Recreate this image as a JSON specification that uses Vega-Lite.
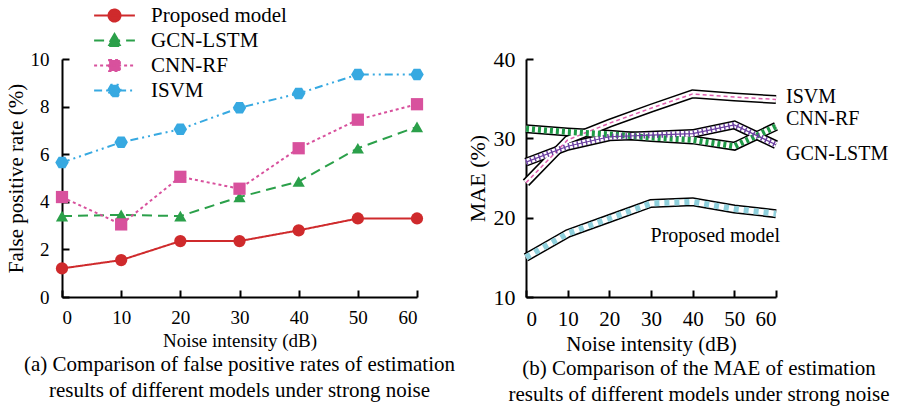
{
  "$schema": "https://vega.github.io/schema/vega-lite/v6.json",
  "background": "white",
  "padding": 5,
  "bounds": "flush",
  "spacing": 109,
  "datasets": {
    "fpr": [
      {"model": "Proposed model", "noise": 0, "fpr": 1.2},
      {"model": "Proposed model", "noise": 10, "fpr": 1.55},
      {"model": "Proposed model", "noise": 20, "fpr": 2.35},
      {"model": "Proposed model", "noise": 30, "fpr": 2.35},
      {"model": "Proposed model", "noise": 40, "fpr": 2.8},
      {"model": "Proposed model", "noise": 50, "fpr": 3.3},
      {"model": "Proposed model", "noise": 60, "fpr": 3.3},
      {"model": "GCN-LSTM", "noise": 0, "fpr": 3.4},
      {"model": "GCN-LSTM", "noise": 10, "fpr": 3.45},
      {"model": "GCN-LSTM", "noise": 20, "fpr": 3.4},
      {"model": "GCN-LSTM", "noise": 30, "fpr": 4.2},
      {"model": "GCN-LSTM", "noise": 40, "fpr": 4.85},
      {"model": "GCN-LSTM", "noise": 50, "fpr": 6.25},
      {"model": "GCN-LSTM", "noise": 60, "fpr": 7.15},
      {"model": "CNN-RF", "noise": 0, "fpr": 4.2},
      {"model": "CNN-RF", "noise": 10, "fpr": 3.05},
      {"model": "CNN-RF", "noise": 20, "fpr": 5.05},
      {"model": "CNN-RF", "noise": 30, "fpr": 4.55},
      {"model": "CNN-RF", "noise": 40, "fpr": 6.25},
      {"model": "CNN-RF", "noise": 50, "fpr": 7.45},
      {"model": "CNN-RF", "noise": 60, "fpr": 8.1},
      {"model": "ISVM", "noise": 0, "fpr": 5.65},
      {"model": "ISVM", "noise": 10, "fpr": 6.5},
      {"model": "ISVM", "noise": 20, "fpr": 7.05},
      {"model": "ISVM", "noise": 30, "fpr": 7.95},
      {"model": "ISVM", "noise": 40, "fpr": 8.55},
      {"model": "ISVM", "noise": 50, "fpr": 9.35},
      {"model": "ISVM", "noise": 60, "fpr": 9.35}
    ],
    "mae": [
      {"model": "ISVM", "noise": 0, "mae": 24.4},
      {"model": "ISVM", "noise": 10, "mae": 29.8},
      {"model": "ISVM", "noise": 20, "mae": 31.9},
      {"model": "ISVM", "noise": 30, "mae": 33.8},
      {"model": "ISVM", "noise": 40, "mae": 35.6},
      {"model": "ISVM", "noise": 50, "mae": 35.2},
      {"model": "ISVM", "noise": 60, "mae": 34.9},
      {"model": "CNN-RF", "noise": 0, "mae": 31.2},
      {"model": "CNN-RF", "noise": 10, "mae": 30.8},
      {"model": "CNN-RF", "noise": 20, "mae": 30.5},
      {"model": "CNN-RF", "noise": 30, "mae": 30.1},
      {"model": "CNN-RF", "noise": 40, "mae": 29.8},
      {"model": "CNN-RF", "noise": 50, "mae": 29.0},
      {"model": "CNN-RF", "noise": 60, "mae": 31.5},
      {"model": "GCN-LSTM", "noise": 0, "mae": 27.0},
      {"model": "GCN-LSTM", "noise": 10, "mae": 29.0},
      {"model": "GCN-LSTM", "noise": 20, "mae": 30.2},
      {"model": "GCN-LSTM", "noise": 30, "mae": 30.4},
      {"model": "GCN-LSTM", "noise": 40, "mae": 30.6},
      {"model": "GCN-LSTM", "noise": 50, "mae": 31.7},
      {"model": "GCN-LSTM", "noise": 60, "mae": 29.2},
      {"model": "Proposed model", "noise": 0, "mae": 15.0},
      {"model": "Proposed model", "noise": 10, "mae": 18.0},
      {"model": "Proposed model", "noise": 20, "mae": 19.9},
      {"model": "Proposed model", "noise": 30, "mae": 21.8},
      {"model": "Proposed model", "noise": 40, "mae": 22.0},
      {"model": "Proposed model", "noise": 50, "mae": 21.1},
      {"model": "Proposed model", "noise": 60, "mae": 20.5}
    ]
  },
  "hconcat": [
    {
      "width": 355,
      "height": 238,
      "data": {"name": "fpr"},
      "title": {
        "text": ["(a) Comparison of false positive rates of estimation", "results of different models under strong noise"],
        "orient": "bottom"
      },
      "encoding": {
        "x": {"field": "noise", "type": "quantitative", "scale": {"domain": [0, 60], "nice": false}, "axis": {"values": [0, 10, 20, 30, 40, 50, 60], "title": "Noise intensity (dB)"}},
        "y": {"field": "fpr", "type": "quantitative", "scale": {"domain": [0, 10], "nice": false}, "axis": {"values": [0, 2, 4, 6, 8, 10], "title": "False positive rate (%)", "titleFontSize": 21, "labelPadding": 20}}
      },
      "layer": [
        {
          "mark": {"type": "line", "strokeWidth": 2},
          "encoding": {
            "color": {
              "field": "model", "type": "nominal",
              "scale": {"domain": ["Proposed model", "GCN-LSTM", "CNN-RF", "ISVM"], "range": ["#cf2a2c", "#2ba04a", "#d8519d", "#37a9e1"]},
              "legend": {
                "orient": "none", "legendX": 42, "legendY": -54, "title": null, "padding": 0,
                "symbolSize": 144, "symbolStrokeWidth": 2,
                "labelFont": "Liberation Serif, serif", "labelFontSize": 21, "labelColor": "black", "labelOffset": 26, "rowPadding": 3,
                "encode": {
                  "symbols": {
                    "update": {
                      "shape": {"signal": "datum.value === 'Proposed model' ? 'M-3.4,0H3.4M-1,0A1,1 0 1,1 1,0A1,1 0 1,1 -1,0Z' : datum.value === 'GCN-LSTM' ? 'M-3.4,0H3.4M0,-1.1L1.15,0.9L-1.15,0.9Z' : datum.value === 'CNN-RF' ? 'M-3.4,0H3.4M-0.9,-0.9H0.9V0.9H-0.9Z' : 'M-3.4,0H3.4M-1.1,0L-0.55,-0.95L0.55,-0.95L1.1,0L0.55,0.95L-0.55,0.95Z'"},
                      "fill": {"scale": "color", "field": "value"},
                      "stroke": {"scale": "color", "field": "value"},
                      "opacity": {"value": 1}
                    }
                  }
                }
              }
            },
            "strokeDash": {
              "field": "model", "type": "nominal",
              "scale": {"domain": ["Proposed model", "GCN-LSTM", "CNN-RF", "ISVM"], "range": [[1, 0], [10, 6], [3, 3], [8, 4, 2, 4, 2, 4]]},
              "legend": {
                "orient": "none", "legendX": 42, "legendY": -54, "title": null, "padding": 0,
                "symbolSize": 144, "symbolStrokeWidth": 2,
                "labelFont": "Liberation Serif, serif", "labelFontSize": 21, "labelColor": "black", "labelOffset": 26, "rowPadding": 3,
                "encode": {
                  "symbols": {
                    "update": {
                      "shape": {"signal": "datum.value === 'Proposed model' ? 'M-3.4,0H3.4M-1,0A1,1 0 1,1 1,0A1,1 0 1,1 -1,0Z' : datum.value === 'GCN-LSTM' ? 'M-3.4,0H3.4M0,-1.1L1.15,0.9L-1.15,0.9Z' : datum.value === 'CNN-RF' ? 'M-3.4,0H3.4M-0.9,-0.9H0.9V0.9H-0.9Z' : 'M-3.4,0H3.4M-1.1,0L-0.55,-0.95L0.55,-0.95L1.1,0L0.55,0.95L-0.55,0.95Z'"},
                      "fill": {"scale": "color", "field": "value"},
                      "stroke": {"scale": "color", "field": "value"},
                      "opacity": {"value": 1}
                    }
                  }
                }
              }
            }
          }
        },
        {"transform": [{"filter": "datum.model === 'Proposed model'"}], "mark": {"type": "point", "filled": true, "size": 150, "opacity": 1, "shape": "circle", "color": "#cf2a2c"}, "encoding": {}},
        {"transform": [{"filter": "datum.model === 'GCN-LSTM'"}], "mark": {"type": "point", "filled": true, "size": 150, "opacity": 1, "shape": "triangle-up", "color": "#2ba04a"}, "encoding": {}},
        {"transform": [{"filter": "datum.model === 'CNN-RF'"}], "mark": {"type": "point", "filled": true, "size": 150, "opacity": 1, "shape": "square", "color": "#d8519d"}, "encoding": {}},
        {"transform": [{"filter": "datum.model === 'ISVM'"}], "mark": {"type": "point", "filled": true, "size": 150, "opacity": 1, "shape": "M-1.1,0L-0.55,-0.95L0.55,-0.95L1.1,0L0.55,0.95L-0.55,0.95Z", "color": "#37a9e1"}, "encoding": {}}
      ]
    },
    {
      "width": 250,
      "height": 238,
      "data": {"name": "mae"},
      "title": {
        "text": ["(b) Comparison of the MAE of estimation", "results of different models under strong noise"],
        "orient": "bottom",
        "dx": 48
      },
      "encoding": {
        "x": {"field": "noise", "type": "quantitative", "scale": {"domain": [0, 60], "nice": false}, "axis": {"values": [0, 10, 20, 30, 40, 50, 60], "title": "Noise intensity (dB)", "labelFontSize": 21, "titleFontSize": 21}},
        "y": {"field": "mae", "type": "quantitative", "scale": {"domain": [10, 40], "nice": false}, "axis": {"values": [10, 20, 30, 40], "title": "MAE (%)", "labelFontSize": 22, "titleFontSize": 22}}
      },
      "layer": [
        {"mark": {"type": "line", "color": "black", "strokeWidth": 9}, "encoding": {"detail": {"field": "model"}}},
        {"mark": {"type": "line", "color": "white", "strokeWidth": 6}, "encoding": {"detail": {"field": "model"}}},
        {"transform": [{"filter": "datum.model === 'ISVM'"}], "mark": {"type": "line", "color": "#e060b0", "strokeWidth": 1.5, "strokeDash": [4, 3]}, "encoding": {}},
        {"transform": [{"filter": "datum.model === 'CNN-RF'"}], "mark": {"type": "line", "color": "#1f9a47", "strokeWidth": 6, "strokeDash": [3, 3]}, "encoding": {}},
        {"transform": [{"filter": "datum.model === 'GCN-LSTM'"}], "mark": {"type": "line", "color": "#6b3fa0", "strokeWidth": 6, "strokeDash": [1.5, 3]}, "encoding": {}},
        {"transform": [{"filter": "datum.model === 'GCN-LSTM'"}], "mark": {"type": "line", "color": "#6b3fa0", "strokeWidth": 1.2}, "encoding": {}},
        {"transform": [{"filter": "datum.model === 'Proposed model'"}], "mark": {"type": "line", "color": "#8fd0dc", "strokeWidth": 6, "strokeDash": [5, 5]}, "encoding": {}},
        {"transform": [{"filter": "datum.noise === 60 && datum.model === 'ISVM'"}], "mark": {"type": "text", "align": "left", "dx": 10, "dy": -2, "font": "Liberation Serif, serif", "fontSize": 20, "color": "black"}, "encoding": {"text": {"field": "model"}}},
        {"transform": [{"filter": "datum.noise === 60 && datum.model === 'CNN-RF'"}], "mark": {"type": "text", "align": "left", "dx": 10, "dy": -7, "font": "Liberation Serif, serif", "fontSize": 20, "color": "black"}, "encoding": {"text": {"field": "model"}}},
        {"transform": [{"filter": "datum.noise === 60 && datum.model === 'GCN-LSTM'"}], "mark": {"type": "text", "align": "left", "dx": 10, "dy": 9, "font": "Liberation Serif, serif", "fontSize": 20, "color": "black"}, "encoding": {"text": {"field": "model"}}},
        {"transform": [{"filter": "datum.noise === 60 && datum.model === 'Proposed model'"}], "mark": {"type": "text", "align": "right", "dx": 4, "dy": 22, "font": "Liberation Serif, serif", "fontSize": 20, "color": "black"}, "encoding": {"text": {"field": "model"}}}
      ]
    }
  ],
  "config": {
    "font": "Liberation Serif, serif",
    "view": {"stroke": null},
    "axis": {
      "domainColor": "black", "domainWidth": 2, "tickColor": "black", "tickWidth": 2, "tickSize": -7,
      "labelPadding": 18, "labelFont": "Liberation Serif, serif", "labelFontSize": 19, "labelColor": "black",
      "titleFont": "Liberation Serif, serif", "titleFontSize": 19, "titleFontWeight": "normal", "titleColor": "black", "titlePadding": 4, "grid": false
    },
    "title": {"font": "Liberation Serif, serif", "fontSize": 21, "fontWeight": "normal", "color": "black", "lineHeight": 26, "offset": 4}
  }
}
